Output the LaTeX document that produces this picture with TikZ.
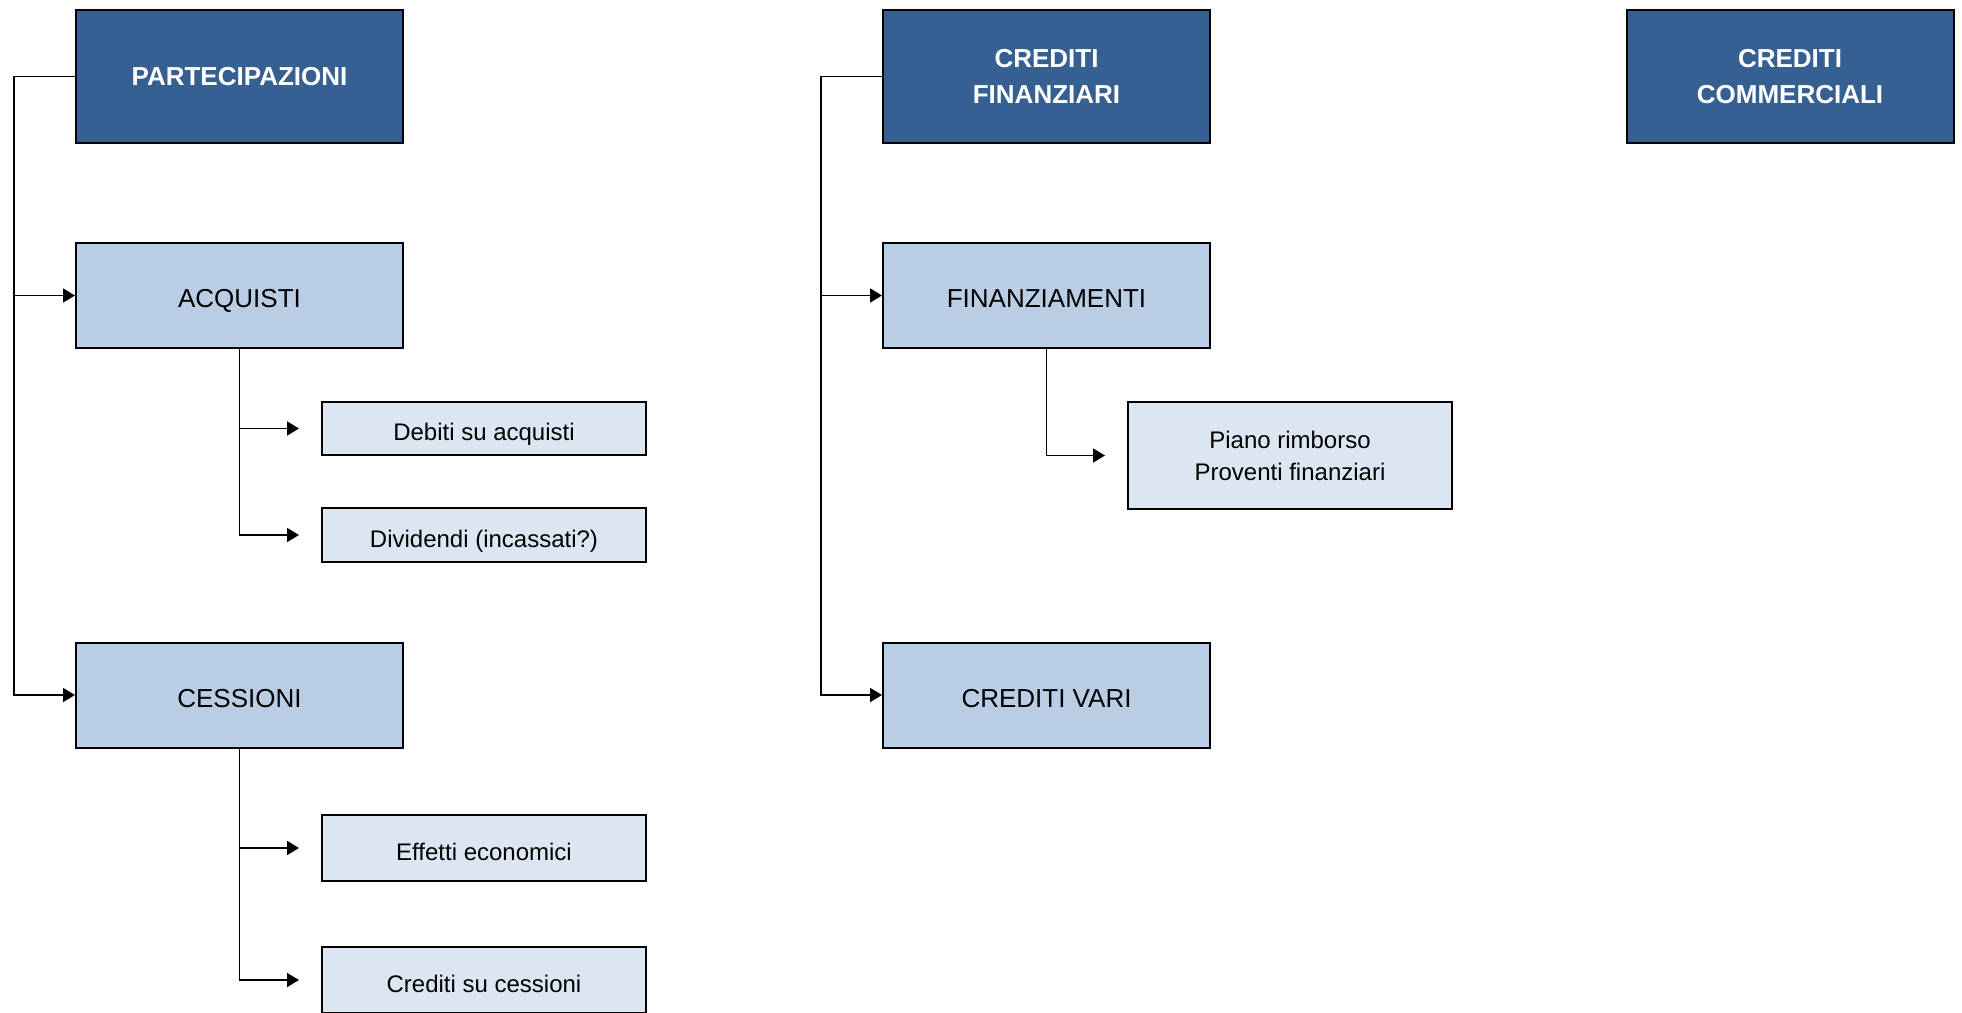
\documentclass[tikz,border=0pt]{standalone}
\usepackage{fontspec}
\setmainfont{Liberation Sans}
\usetikzlibrary{arrows.meta}
\definecolor{headblue}{RGB}{55,96,146}
\definecolor{midblue}{RGB}{185,205,229}
\definecolor{paleblue}{RGB}{220,230,242}

\begin{document}
\begin{tikzpicture}[x=0.5pt,y=-0.5pt,
    head/.style={draw=black,line width=1pt,fill=headblue,text=white,
      font=\bfseries\fontsize{13}{18}\selectfont,align=center,
      minimum width=163.5pt,minimum height=66.5pt,inner sep=0pt},
    group/.style={draw=black,line width=1pt,fill=midblue,
      font=\fontsize{13}{16}\selectfont,text height=12pt,text depth=0pt,
      minimum width=163.5pt,minimum height=52.5pt,inner sep=0pt},
    item/.style={draw=black,line width=1pt,fill=paleblue,
      font=\fontsize{12}{16}\selectfont,align=center,
      minimum width=162pt,inner sep=0pt},
    single/.style={text height=12pt,text depth=0pt},
    link/.style={line width=0.9pt,-{Triangle[length=6pt,width=7pt]}},
    gap/.style={shorten >=11pt}]
  \useasboundingbox (0,0) rectangle (1962,1012);

  \node[head] (part) at (239.5,76.5) {PARTECIPAZIONI};
  \node[group] (acq) at (239.5,295.5) {ACQUISTI};
  \node[item,single,minimum height=26.5pt] (deb) at (484,428.5) {Debiti su acquisti};
  \node[item,single,minimum height=27pt] (div) at (484,535) {Dividendi (incassati?)};
  \node[group] (cess) at (239.5,695) {CESSIONI};
  \node[item,single,minimum height=33pt] (eff) at (484,848) {Effetti economici};
  \node[item,single,minimum height=33pt] (ccess) at (484,980) {Crediti su cessioni};

  \node[head] (cfin) at (1046.5,76.5) {CREDITI\\FINANZIARI};
  \node[group] (finz) at (1046.5,295.5) {FINANZIAMENTI};
  \node[item,minimum height=53.5pt] (piano) at (1290,455.5) {Piano rimborso\\Proventi finanziari};
  \node[group] (cvari) at (1046.5,695) {CREDITI VARI};

  \node[head] (ccomm) at (1790,76.5) {CREDITI\\COMMERCIALI};

  \coordinate (ltrunk) at (14,0);
  \coordinate (rtrunk) at (821,0);

  \draw[link] (part.west) -| (ltrunk |- cess.west) -- (cess.west);
  \draw[link] (acq.west -| ltrunk) -- (acq.west);
  \draw[link,gap] (acq.south) |- (deb.west);
  \draw[link,gap] (acq.south) |- (div.west);
  \draw[link,gap] (cess.south) |- (eff.west);
  \draw[link,gap] (cess.south) |- (ccess.west);

  \draw[link] (cfin.west) -| (rtrunk |- cvari.west) -- (cvari.west);
  \draw[link] (finz.west -| rtrunk) -- (finz.west);
  \draw[link,gap] (finz.south) |- (piano.west);
\end{tikzpicture}
\end{document}
